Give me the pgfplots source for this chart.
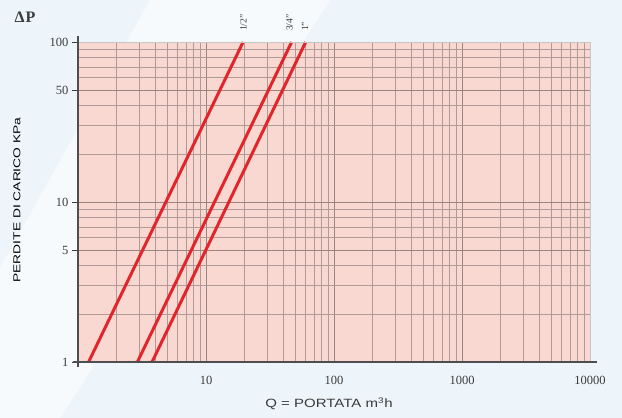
\documentclass[border=0pt]{standalone}
\usepackage{pgfplots}
\pgfplotsset{compat=1.18}
\usepackage{graphicx}
\usepackage{fontspec}
\setmainfont{Liberation Serif}
\newfontfamily\labfont{Liberation Sans}
\definecolor{bg}{HTML}{EEF5FA}
\definecolor{plotbg}{HTML}{F8D8D1}
\definecolor{gridc}{HTML}{B09A98}
\definecolor{gridm}{HTML}{9A8482}
\definecolor{redl}{HTML}{E2242B}
\definecolor{txt}{HTML}{3A3A3A}
\begin{document}
\begin{tikzpicture}[x=1pt,y=1pt]
\fill[bg] (0,0) rectangle (622,418);
\fill[white,opacity=0.5] (150,418) -- (330,418) -- (60,0) -- (0,0) -- (0,150) -- cycle;
\useasboundingbox (0,0) rectangle (622,418);
\begin{axis}[
  at={(78pt,56pt)}, anchor=south west, scale only axis,
  width=512pt, height=320pt,
  xmode=log, ymode=log, xmin=1, xmax=10000, ymin=1, ymax=100,
  axis background/.style={fill=plotbg},
  xtick={10,100,1000,10000}, xticklabels={10,100,1000,10000},
  ytick={1,5,10,50,100}, yticklabels={1,5,10,50,100},
  ytick pos=left, xtick pos=bottom,
  minor xtick={2,3,4,5,6,7,8,9,20,30,40,50,60,70,80,90,200,300,400,500,600,700,800,900,2000,3000,4000,5000,6000,7000,8000,9000},
  minor ytick={2,3,4,6,7,8,9,20,30,40,60,70,80,90},
  grid=both,
  major grid style={gridm, line width=0.6pt},
  minor grid style={gridc, line width=0.55pt},
  axis line style={draw=none},
  tick align=outside,
  major tick length=6pt, minor tick length=0pt,
  xtick style={draw=none},
  ytick style={draw=txt, line width=0.6pt},
  ticklabel style={font=\fontsize{12.5}{14}\selectfont, text=txt},
  xticklabel style={yshift=-5pt},
  /pgf/number format/assume math mode=true,
]
\addplot[redl, line width=3pt] coordinates {(1.21,1) (19.5,100)};
\addplot[redl, line width=3pt] coordinates {(2.91,1) (46.7,100)};
\addplot[redl, line width=3pt] coordinates {(3.79,1) (60.1,100)};
\end{axis}
\draw[gray!45, line width=0.8pt] (78,376) -- (590,376) -- (590,56);
\draw[txt!90, line width=1.2pt] (78,51) -- (78,382);
\draw[txt!90, line width=1.2pt] (73,56) -- (597,56);
\node[rotate=90, anchor=west, font=\fontsize{9.5}{10}\selectfont, text=txt, inner sep=0pt] at (243.5,387) {1/2"};
\node[rotate=90, anchor=west, font=\fontsize{9.5}{10}\selectfont, text=txt, inner sep=0pt] at (289.5,387) {3/4"};
\node[rotate=90, anchor=west, font=\fontsize{9.5}{10}\selectfont, text=txt, inner sep=0pt] at (305,387) {1"};
\node[font=\bfseries\fontsize{16}{18}\selectfont, text=txt] at (25,401) {Δ\kern1pt P};
\node[rotate=90, font=\labfont\fontsize{10}{12}\selectfont, text=black] at (17,218) {\scalebox{1.38}[1]{PERDITE DI CARICO KPa}};
\node[font=\labfont\fontsize{12}{14}\selectfont, text=txt] at (329,14) {\scalebox{1.25}[1]{Q = PORTATA m\textsuperscript{3}h}};
\end{tikzpicture}
\end{document}
